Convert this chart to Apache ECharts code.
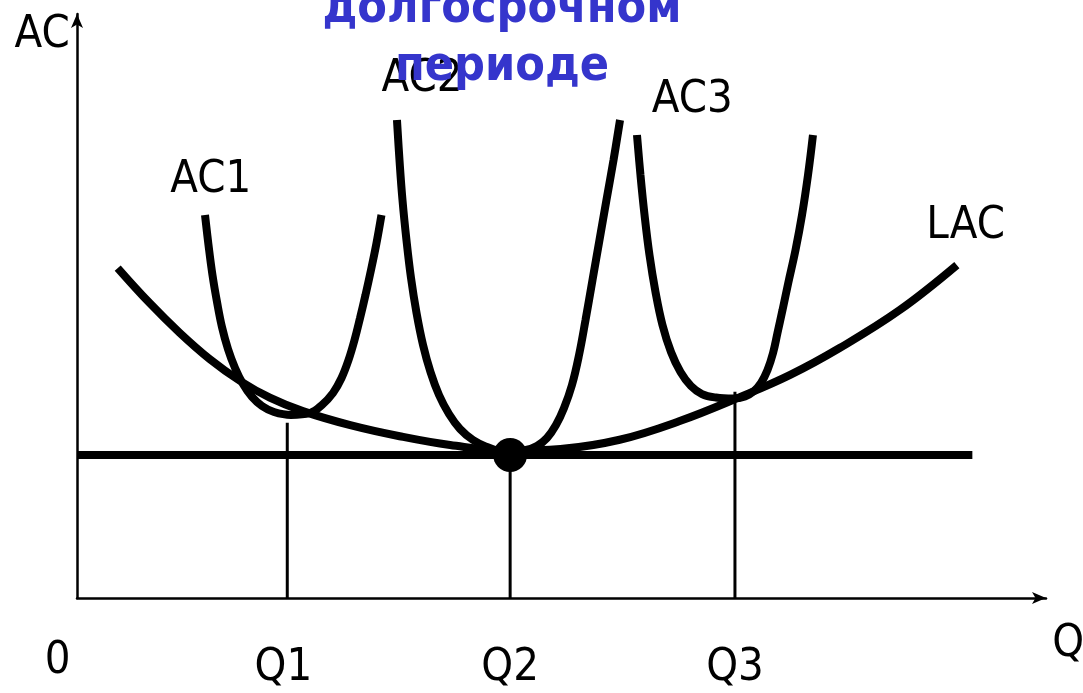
<!DOCTYPE html>
<html>
<head>
<meta charset="utf-8">
<script src="https://cdn.jsdelivr.net/npm/echarts@6/dist/echarts.min.js"></script>
<style>
  html, body { margin: 0; padding: 0; background: #fff; }
  #chart { width: 1083px; height: 693px; }
</style>
</head>
<body>
<div id="chart"></div>
<script>
// LAC - долгосрочные средние издержки
const lacQ  = [4.2, 7.5, 10.6, 13.7, 16.8, 19.9, 23.3, 28.2, 33.3, 38.5, 44.7, 49.9, 56.0, 62.2, 68.4, 73.6, 78.7, 84.9, 90.8];
const lacAC = [56.5, 50.5, 45.4, 40.9, 37.2, 34.3, 32.0, 29.6, 27.7, 26.2, 25.2, 25.5, 27.1, 30.3, 34.4, 38.2, 42.8, 49.3, 57.0];

// краткосрочные кривые
const ac1Q  = [13.21, 13.57, 13.98, 14.45, 14.96, 15.58, 16.31, 17.13, 18.06, 19.09, 20.33, 22.08,
               24.05, 25.28, 26.42, 27.30, 28.02, 28.64, 29.21, 29.77, 30.34, 30.91, 31.42];
const ac1AC = [65.58, 60.45, 55.31, 50.68, 46.40, 42.64, 39.38, 36.64, 34.42, 32.88, 31.85, 31.34,
               31.68, 33.05, 35.10, 37.67, 40.75, 44.18, 47.95, 51.88, 56.16, 60.79, 65.58];

const ac2Q  = [33.02, 33.28, 33.59, 34.00, 34.47, 35.04, 35.71, 36.48, 37.36, 38.39, 39.53, 40.87, 42.31, 43.55, 44.69,
               46.34, 47.47, 48.50, 49.43, 50.26, 51.08, 51.81, 52.48, 53.20, 53.92, 54.64, 55.37, 56.04];
const ac2AC = [81.85, 75.00, 68.15, 61.30, 54.79, 48.80, 43.32, 38.70, 34.76, 31.51, 28.94, 27.05, 25.86, 25.17, 25.00,
               25.34, 26.03, 27.40, 29.62, 32.53, 36.47, 41.61, 47.60, 54.45, 61.30, 68.15, 75.00, 81.85];

const ac3Q  = [57.79, 58.15, 58.57, 59.08, 59.70, 60.42, 61.30, 62.28, 63.36, 64.50, 65.94, 67.70,
               68.94, 69.87, 70.59, 71.26, 71.83, 72.29, 72.81, 73.40, 74.15, 74.82, 75.44, 75.95];
const ac3AC = [79.28, 72.43, 65.58, 58.73, 52.40, 46.75, 42.12, 38.70, 36.30, 34.93, 34.33, 34.16,
               34.50, 35.45, 36.82, 39.04, 41.95, 45.38, 49.32, 53.94, 59.59, 65.58, 72.43, 79.28];

// Q1, Q2, Q3 и высота вертикальных линий
const qNames = ['Q1', 'Q2', 'Q3'];
const qValues = [21.7, 44.7, 67.9];
const qTops = [30.0, 24.5, 35.3];

const minAC = 24.5;       // уровень горизонтальной линии
const minLineEnd = 92.4;  // конец горизонтальной линии

const font = "'DejaVu Sans Condensed', 'DejaVu Sans', sans-serif";

// где стоят подписи (в единицах осей)
const textAnchors = [
  { text: 'AC1', q: 13.8, ac: 71.6 },
  { text: 'AC2', q: 35.6, ac: 88.9 },
  { text: 'AC3', q: 63.5, ac: 85.3 },
  { text: 'LAC', q: 91.7, ac: 63.7 },
  { text: 'AC',  q: -3.6, ac: 96.4 },
  { text: '0',   q: -2.0, ac: -10.8 },
  { text: 'Q',   q: 102.3, ac: -8.0 },
  { text: 'Q1',  q: 21.3, ac: -12.0 },
  { text: 'Q2',  q: 44.7, ac: -12.0 },
  { text: 'Q3',  q: 67.9, ac: -12.0 }
];

const zip = (xs, ys) => xs.map((x, i) => [x, ys[i]]);

function curve(name, xs, ys) {
  return {
    type: 'line',
    name,
    data: zip(xs, ys),
    smooth: 0.4,
    showSymbol: false,
    silent: true,
    lineStyle: { color: '#000', width: 8, cap: 'butt' },
    z: 3
  };
}

const chart = echarts.init(document.getElementById('chart'));

const series = [];

// вертикальные линии от Q
qValues.forEach((q, i) => {
  series.push({
    type: 'line',
    name: qNames[i],
    data: [[q, 0], [q, qTops[i]]],
    showSymbol: false,
    silent: true,
    lineStyle: { color: '#000', width: 3 },
    z: 2
  });
});

// горизонтальная линия минимума
series.push({
  type: 'line',
  name: 'min',
  data: [[0, minAC], [minLineEnd, minAC]],
  showSymbol: false,
  silent: true,
  lineStyle: { color: '#000', width: 8 },
  z: 2
});

series.push(curve('LAC', lacQ, lacAC));
series.push(curve('AC1', ac1Q, ac1AC));
series.push(curve('AC2', ac2Q, ac2AC));
series.push(curve('AC3', ac3Q, ac3AC));

// точка касания
series.push({
  type: 'scatter',
  data: [[qValues[1], minAC]],
  symbolSize: 34,
  itemStyle: { color: '#000', opacity: 1 },
  silent: true,
  z: 5
});

// подписи
series.push({
  type: 'scatter',
  data: textAnchors.map(t => ({ value: [t.q, t.ac], name: t.text })),
  symbolSize: 0,
  clip: false,
  silent: true,
  itemStyle: { opacity: 1 },
  label: {
    show: true,
    position: 'inside',
    formatter: p => p.name,
    color: '#000',
    fontFamily: font,
    fontSize: 45
  },
  z: 6
});

chart.setOption({
  animation: false,
  backgroundColor: '#fff',
  title: {
    text: 'долгосрочном\nпериоде',
    left: 497,
    top: -24,
    textAlign: 'center',
    z: 20,
    textStyle: {
      color: '#3535CC',
      fontFamily: font,
      fontWeight: 'bold',
      fontSize: 48,
      lineHeight: 58
    }
  },
  grid: { left: 77, right: 37, top: 14, bottom: 95 },
  xAxis: {
    type: 'value',
    min: 0,
    max: 100,
    axisLine: {
      show: true,
      onZero: false,
      symbol: ['none', 'arrow'],
      symbolSize: [9, 14],
      lineStyle: { color: '#000', width: 2.5 }
    },
    axisTick: { show: false },
    axisLabel: { show: false },
    splitLine: { show: false }
  },
  yAxis: {
    type: 'value',
    min: 0,
    max: 100,
    axisLine: {
      show: true,
      onZero: false,
      symbol: ['none', 'arrow'],
      symbolSize: [9, 14],
      lineStyle: { color: '#000', width: 2.5 }
    },
    axisTick: { show: false },
    axisLabel: { show: false },
    splitLine: { show: false }
  },
  series
});
</script>
</body>
</html>
